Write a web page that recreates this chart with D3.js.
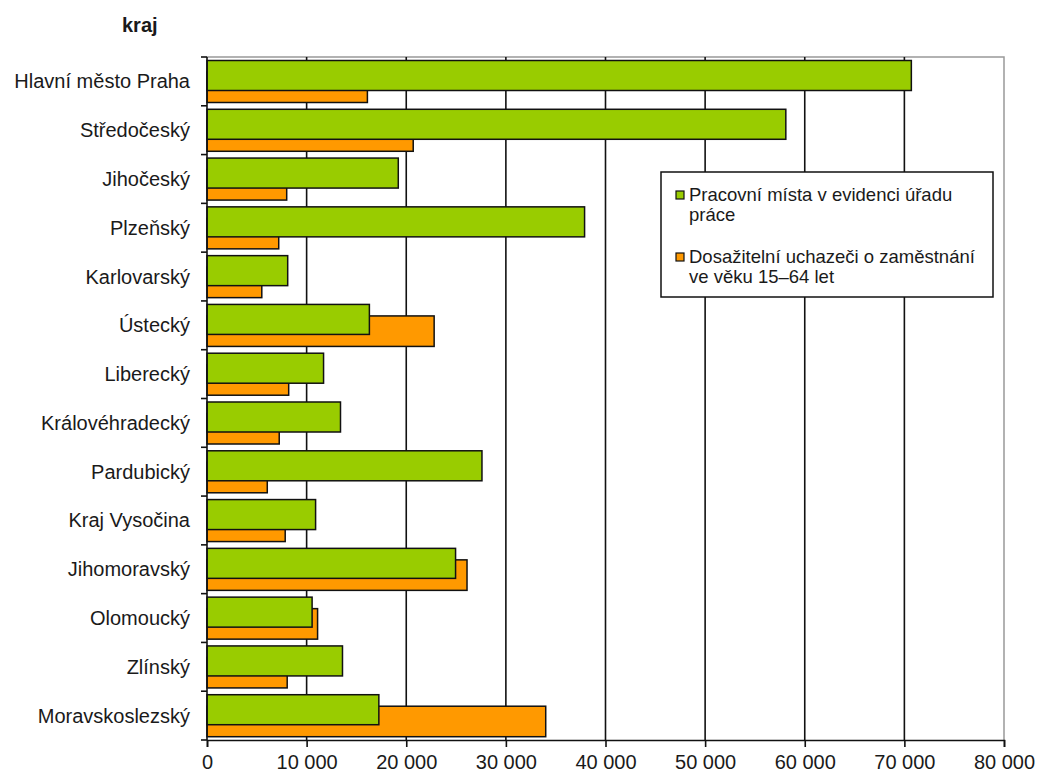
<!DOCTYPE html>
<html>
<head>
<meta charset="utf-8">
<script src="https://cdn.jsdelivr.net/npm/d3@7"></script>
<style>
  body { margin: 0; background: #fff; }
  text { font-family: "Liberation Sans", Arial, sans-serif; fill: #1a1a1a; }
</style>
</head>
<body>
<script>
// data
var regions = [
  "Hlavní město Praha",
  "Středočeský",
  "Jihočeský",
  "Plzeňský",
  "Karlovarský",
  "Ústecký",
  "Liberecký",
  "Královéhradecký",
  "Pardubický",
  "Kraj Vysočina",
  "Jihomoravský",
  "Olomoucký",
  "Zlínský",
  "Moravskoslezský"
];
var jobs = [70700, 58100, 19200, 37900, 8100, 16300, 11700, 13400, 27600, 10900, 24950, 10550, 13600, 17250];
var seekers = [16100, 20700, 8000, 7200, 5500, 22800, 8200, 7250, 6050, 7850, 26100, 11100, 8050, 34000];
var xTicks = [0, 10000, 20000, 30000, 40000, 50000, 60000, 70000, 80000];
var legendLines = [
  ["Pracovní místa v evidenci úřadu", "práce"],
  ["Dosažitelní uchazeči o zaměstnání", "ve věku 15–64 let"]
];
var colors = ["#99CC00", "#FF9900"];

var cWidth = 1038;
var cHeight = 773;
var pLeft = 207, pRight = 1004, pTop = 57, pBottom = 740;

var svg = d3
  .select("body")
  .append("svg")
  .attr("width", cWidth)
  .attr("height", cHeight);

var xScale = d3.scaleLinear().domain([0, 80000]).range([pLeft, pRight]);
var yScale = d3.scaleBand().domain(regions).range([pTop, pBottom]);
var fmt = function(d) { return d3.format(",")(d).replace(/,/g, " "); };

// plot frame (top + right light grey)
svg.append("path")
  .attr("d", "M" + pLeft + "," + pTop + "H" + pRight + "V" + pBottom)
  .attr("fill", "none")
  .attr("stroke", "#999")
  .attr("stroke-width", 1.5);

// vertical gridlines
svg.selectAll(".grid")
  .data(xTicks.slice(1, -1))
  .enter()
  .append("line")
  .attr("x1", d => xScale(d))
  .attr("x2", d => xScale(d))
  .attr("y1", pTop)
  .attr("y2", pBottom)
  .attr("stroke", "#111")
  .attr("stroke-width", 1.6);

// orange bars (behind)
svg.selectAll(".seek")
  .data(regions)
  .enter()
  .append("rect")
  .attr("x", xScale(0))
  .attr("y", d => yScale(d) + 15)
  .attr("width", (d, i) => xScale(seekers[i]) - xScale(0))
  .attr("height", 30.5)
  .attr("fill", colors[1])
  .attr("stroke", "#111")
  .attr("stroke-width", 1.5);

// green bars (front)
svg.selectAll(".jobs")
  .data(regions)
  .enter()
  .append("rect")
  .attr("x", xScale(0))
  .attr("y", d => yScale(d) + 3.5)
  .attr("width", (d, i) => xScale(jobs[i]) - xScale(0))
  .attr("height", 30)
  .attr("fill", colors[0])
  .attr("stroke", "#111")
  .attr("stroke-width", 1.5);

// bottom axis
var xAxis = svg.append("g")
  .attr("transform", "translate(0," + pBottom + ")")
  .call(d3.axisBottom(xScale).tickValues(xTicks).tickFormat(fmt).tickSize(7).tickPadding(8));
xAxis.select(".domain").attr("stroke", "#111").attr("stroke-width", 1.6);
xAxis.selectAll(".tick line").attr("stroke", "#111").attr("stroke-width", 1.6);
xAxis.selectAll("text")
  .attr("font-size", 20)
  .attr("font-family", "Liberation Sans, Arial, sans-serif")
  .attr("fill", "#1a1a1a");

// left axis line + ticks at band edges
svg.append("line")
  .attr("x1", pLeft).attr("x2", pLeft)
  .attr("y1", pTop).attr("y2", pBottom)
  .attr("stroke", "#111").attr("stroke-width", 1.6);
var edges = regions.map(d => yScale(d)).concat([pBottom]);
svg.selectAll(".ytick")
  .data(edges)
  .enter()
  .append("line")
  .attr("x1", pLeft - 6).attr("x2", pLeft)
  .attr("y1", d => d).attr("y2", d => d)
  .attr("stroke", "#111").attr("stroke-width", 1.6);

// category labels
svg.selectAll(".cat")
  .data(regions)
  .enter()
  .append("text")
  .attr("x", 190)
  .attr("y", d => yScale(d) + yScale.bandwidth() / 2)
  .attr("dy", "0.35em")
  .attr("text-anchor", "end")
  .attr("font-size", 20)
  .text(d => d);

// axis title
svg.append("text")
  .attr("x", 122)
  .attr("y", 25)
  .attr("dy", "0.35em")
  .attr("font-size", 20)
  .attr("font-weight", "bold")
  .text("kraj");

// legend
var lg = svg.append("g");
lg.append("rect")
  .attr("x", 661).attr("y", 172)
  .attr("width", 332).attr("height", 125)
  .attr("fill", "#fff")
  .attr("stroke", "#111")
  .attr("stroke-width", 1.5);
legendLines.forEach(function(lines, i) {
  var y0 = 195 + i * 62;
  lg.append("rect")
    .attr("x", 676).attr("y", y0 - 4)
    .attr("width", 8).attr("height", 8)
    .attr("fill", colors[i])
    .attr("stroke", "#111")
    .attr("stroke-width", 1.2);
  lines.forEach(function(t, j) {
    lg.append("text")
      .attr("x", 689)
      .attr("y", y0 + j * 20)
      .attr("dy", "0.35em")
      .attr("font-size", 18.5)
      .text(t);
  });
});
</script>
</body>
</html>
